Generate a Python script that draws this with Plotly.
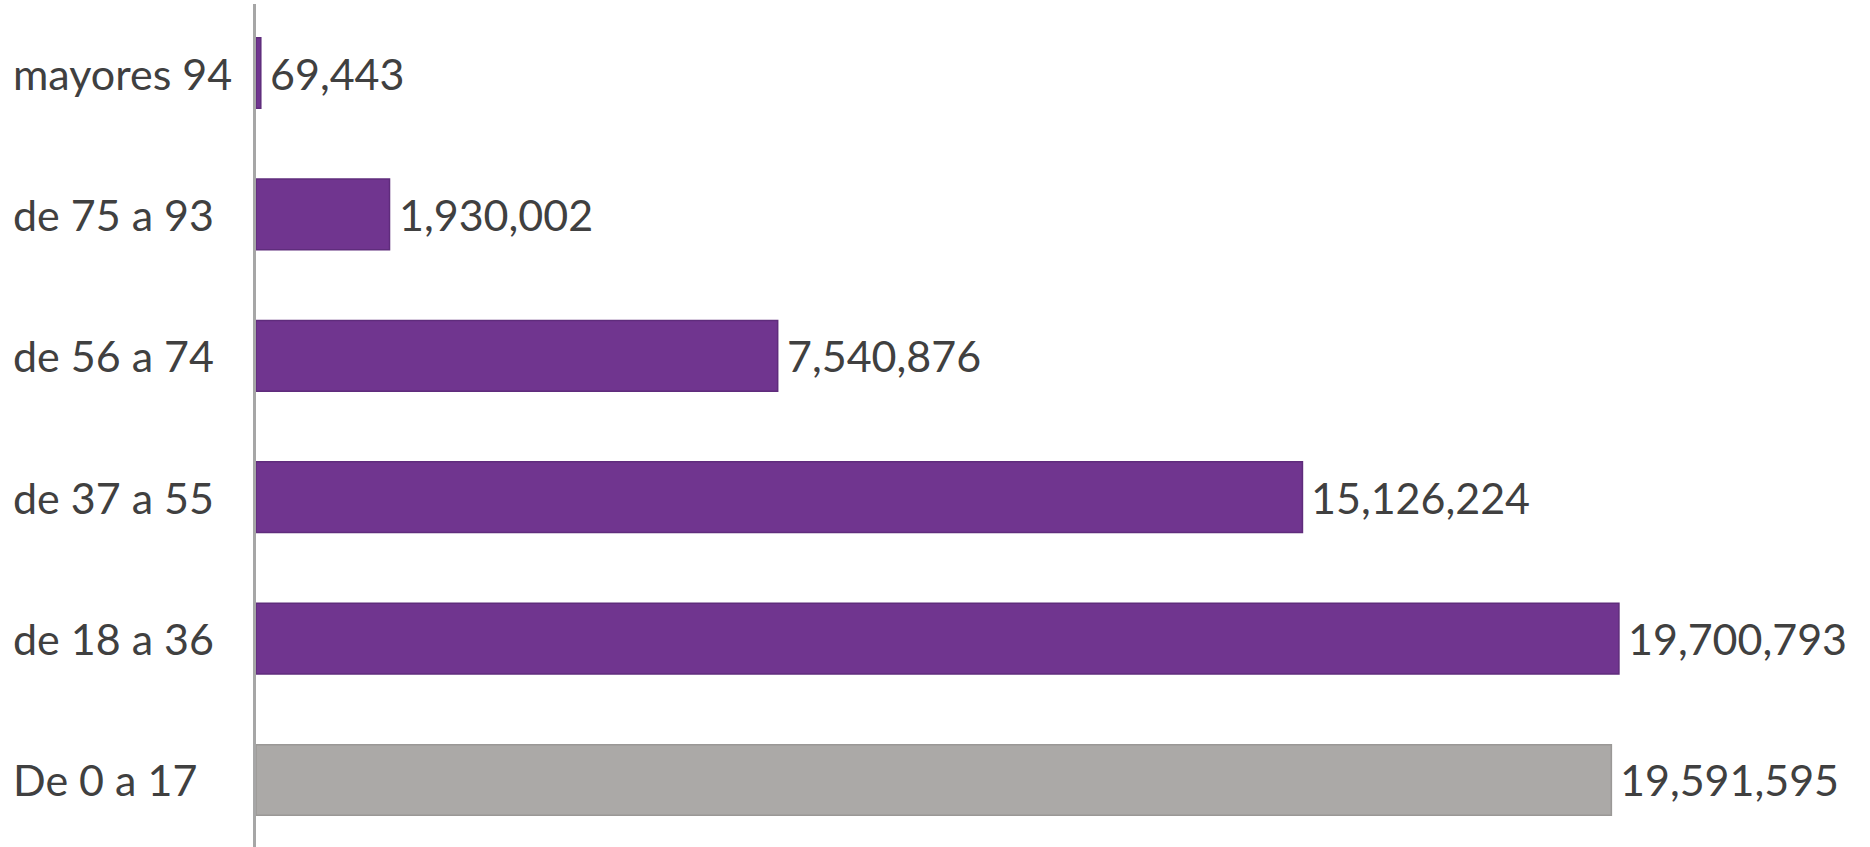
import plotly.graph_objects as go

categories = ["De 0 a 17", "de 18 a 36", "de 37 a 55", "de 56 a 74", "de 75 a 93", "mayores 94"]
values = [19591595, 19700793, 15126224, 7540876, 1930002, 69443]
bar_colors = ["#ABA9A7", "#70358F", "#70358F", "#70358F", "#70358F", "#70358F"]
line_colors = ["#9A9896", "#5F2C7C", "#5F2C7C", "#5F2C7C", "#5F2C7C", "#5F2C7C"]
value_labels = [f"{v:,}" for v in values]

FONT = "Lato"
TXT = "#404040"
W, H = 1870, 847
ML, MR, MT, MB = 256, 0, 4, 0
plot_w = W - ML - MR

fig = go.Figure()
fig.add_trace(go.Bar(
    x=values,
    y=categories,
    orientation="h",
    width=0.5,
    marker=dict(color=bar_colors, line=dict(color=line_colors, width=1.5)),
    hoverinfo="skip",
))

for c, v, t in zip(categories, values, value_labels):
    fig.add_annotation(
        x=v, xref="x", xanchor="left", xshift=7,
        y=c, yref="y", yanchor="middle",
        text=t, showarrow=False,
        font=dict(family=FONT, size=43, color=TXT),
    )

for c in categories:
    fig.add_annotation(
        x=-(ML - 11) / plot_w, xref="paper", xanchor="left",
        y=c, yref="y", yanchor="middle",
        text=c, showarrow=False,
        font=dict(family=FONT, size=43, color=TXT),
    )

fig.update_layout(
    width=W, height=H,
    margin=dict(l=ML, r=MR, t=MT, b=MB, pad=0),
    paper_bgcolor="white",
    plot_bgcolor="white",
    showlegend=False,
    xaxis=dict(range=[0, 23.33e6], showgrid=False, zeroline=False,
               showticklabels=False, showline=False, ticks=""),
    yaxis=dict(categoryorder="array", categoryarray=categories,
               range=[-0.474, 5.488], showgrid=False, zeroline=False,
               showticklabels=False, ticks="",
               showline=True, linecolor="#A6A6A6", linewidth=3),
)

fig.write_html("out.html",
               config={"displayModeBar": False},
               post_script="document.body.style.margin='0';document.body.style.overflow='hidden';")
